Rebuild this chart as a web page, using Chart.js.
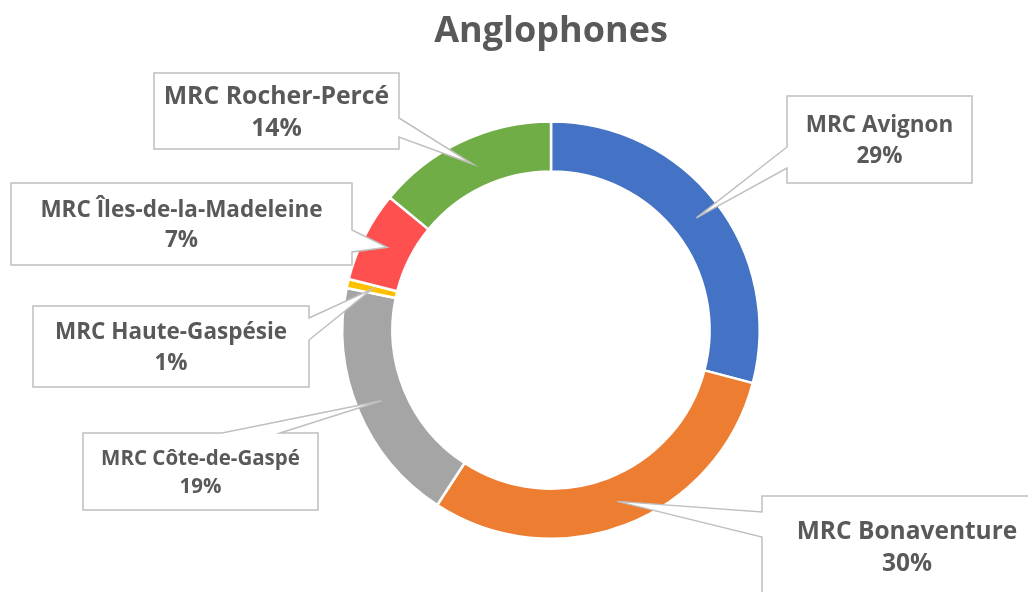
<!DOCTYPE html>
<html>
<head>
    <meta charset="utf-8">
    <title>Anglophones</title>
    <script src="https://cdn.jsdelivr.net/npm/chart.js@4.4.1/dist/chart.umd.min.js"></script>
    <style>
        body { margin: 0; background-color: #ffffff; }
        .chart-container { width: 1028px; height: 592px; position: relative; }
    </style>
</head>
<body>
    <div class="chart-container">
        <canvas id="anglophonesChart"></canvas>
    </div>
    <script>
        const regions = ['MRC Avignon', 'MRC Bonaventure', 'MRC Côte-de-Gaspé', 'MRC Haute-Gaspésie', 'MRC Îles-de-la-Madeleine', 'MRC Rocher-Percé'];
        const shares = [29, 30, 19, 0.7, 7, 14];
        const sliceColors = ['#4472C4', '#ED7D31', '#A5A5A5', '#FFC000', '#FF5050', '#70AD47'];

        // callout bubbles, same order as the slices: [left, top, width, height], pointer side and span
        const callouts = [
            { box: [787, 96, 185, 87], side: 'left', from: 147, to: 168, size: 22.5 },
            { box: [762, 496, 290, 101], side: 'left', from: 512, to: 537, size: 24.5 },
            { box: [83, 433, 235, 77], side: 'top', from: 222, to: 280, size: 20.5 },
            { box: [33, 306, 276, 81], side: 'right', from: 318, to: 340, size: 22.5 },
            { box: [11, 183, 341, 82], side: 'right', from: 230, to: 252, size: 22.5 },
            { box: [154, 73, 245, 76], side: 'right', from: 118, to: 137, size: 24.8 }
        ];

        const textColor = '#595959';
        const fontFamily = '"Open Sans", "Liberation Sans", sans-serif';

        function bubblePath(ctx, c, tip) {
            const [x, y, w, h] = c.box;
            const pts = [];
            pts.push([x, y]);
            if (c.side === 'top') pts.push([c.from, y], [tip.x, tip.y], [c.to, y]);
            pts.push([x + w, y]);
            if (c.side === 'right') pts.push([x + w, c.from], [tip.x, tip.y], [x + w, c.to]);
            pts.push([x + w, y + h]);
            pts.push([x, y + h]);
            if (c.side === 'left') pts.push([x, c.to], [tip.x, tip.y], [x, c.from]);
            ctx.beginPath();
            pts.forEach(([px, py], i) => i ? ctx.lineTo(px, py) : ctx.moveTo(px, py));
            ctx.closePath();
        }

        const calloutPlugin = {
            id: 'callouts',
            afterDatasetsDraw(chart) {
                const ctx = chart.ctx;
                const meta = chart.getDatasetMeta(0);
                const data = chart.data.datasets[0].data;
                const total = data.reduce((a, b) => a + b, 0);
                ctx.save();
                meta.data.forEach((arc, i) => {
                    const c = callouts[i];
                    const tip = arc.getCenterPoint();
                    bubblePath(ctx, c, tip);
                    ctx.fillStyle = '#ffffff';
                    ctx.fill();
                    ctx.strokeStyle = '#BFBFBF';
                    ctx.lineWidth = 1.5;
                    ctx.stroke();

                    const [x, y, w, h] = c.box;
                    const cx = x + w / 2;
                    const cy = y + h / 2;
                    const gap = Math.min(c.size * 1.35, 32);
                    const cap = c.size * 0.714;
                    ctx.fillStyle = textColor;
                    ctx.font = 'bold ' + c.size + 'px ' + fontFamily;
                    ctx.textAlign = 'center';
                    ctx.textBaseline = 'alphabetic';
                    ctx.fillText(chart.data.labels[i], cx, cy - gap / 2 + cap / 2);
                    ctx.fillText(Math.round(data[i] / total * 100) + '%', cx, cy + gap / 2 + cap / 2);
                });
                ctx.restore();
            }
        };

        new Chart(document.getElementById('anglophonesChart').getContext('2d'), {
            type: 'doughnut',
            data: {
                labels: regions,
                datasets: [{
                    data: shares,
                    backgroundColor: sliceColors,
                    borderColor: '#ffffff',
                    borderWidth: 2.5
                }]
            },
            options: {
                responsive: true,
                maintainAspectRatio: false,
                animation: false,
                cutout: '76%',
                layout: {
                    padding: { left: 341, right: 267, top: 10, bottom: 52 }
                },
                plugins: {
                    legend: { display: false },
                    tooltip: { enabled: false },
                    title: {
                        display: true,
                        text: 'Anglophones',
                        color: textColor,
                        font: { family: fontFamily, size: 36, weight: 'bold', lineHeight: 1.2 },
                        padding: { top: 0, bottom: 67 }
                    }
                }
            },
            plugins: [calloutPlugin]
        });
    </script>
</body>
</html>
